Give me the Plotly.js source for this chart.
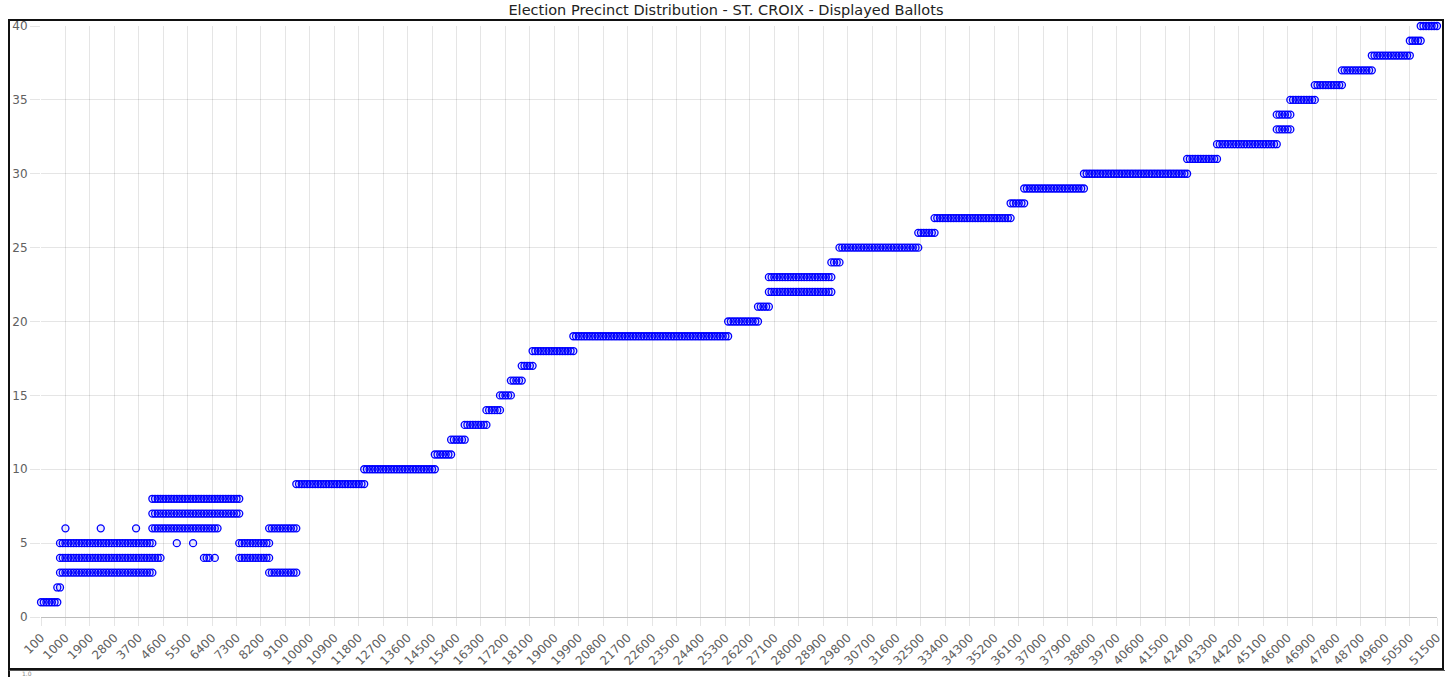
<!DOCTYPE html>
<html>
<head>
<meta charset="utf-8">
<script src="https://cdn.plot.ly/plotly-3.0.1.min.js"></script>
<style>
  html, body { margin: 0; padding: 0; background: #fff; overflow: hidden; }
  #wrap { position: relative; width: 1445px; height: 677px; }
  #chart { position: absolute; left: 0; top: 0; width: 1445px; height: 677px; }
  #frame { position: absolute; left: 8px; top: 19px; width: 1436px; height: 651px;
           box-sizing: border-box; border: 2px solid #111; pointer-events: none; }
  #next { position: absolute; left: 8px; top: 670px; width: 1437px; height: 7px;
          box-sizing: border-box; border-left: 2px solid #111; border-top: 1px solid #555; pointer-events: none;
          font: 6px 'DejaVu Sans', sans-serif; line-height: 6px; color: #888; overflow: visible; }
  #next span { position: absolute; left: 12px; top: 0px; }
</style>
</head>
<body>
<div id="wrap">
  <div id="chart"></div>
  <div id="frame"></div>
  <div id="next"><span>1.0</span></div>
</div>
<script>
// Runs of displayed ballots: [y value, first x label, last x label], one point per label (step 100)
const runs = [
  [1, 100, 700], [2, 700, 800], [3, 800, 4200], [4, 800, 4500], [5, 800, 4200],
  [6, 4200, 6600], [7, 4200, 7400], [8, 4200, 7400], [4, 6100, 6300],
  [5, 7400, 8500], [4, 7400, 8500], [6, 8500, 9500], [3, 8500, 9500],
  [9, 9500, 12000], [10, 12000, 14600], [11, 14600, 15200], [12, 15200, 15700],
  [13, 15700, 16500], [14, 16500, 17000], [15, 17000, 17400], [16, 17400, 17800],
  [17, 17800, 18200], [18, 18200, 19700], [19, 19700, 25400], [20, 25400, 26500],
  [21, 26500, 26900], [22, 26900, 29200], [23, 26900, 29200], [24, 29200, 29500],
  [25, 29500, 32400], [26, 32400, 33000], [27, 33000, 35800], [28, 35800, 36300],
  [29, 36300, 38500], [30, 38500, 42300], [31, 42300, 43400], [32, 43400, 45600],
  [33, 45600, 46100], [34, 45600, 46100], [35, 46100, 47000], [36, 47000, 48000],
  [37, 48000, 49100], [38, 49100, 50500], [39, 50500, 50900], [40, 50900, 51500]
];
// isolated points
const singleX = [1000, 2300, 3600, 5100, 5700, 6500];
const singleY = [6,    6,    6,    5,    5,    4];

const tickLabels = [100, 1000, 1900, 2800, 3700, 4600, 5500, 6400, 7300, 8200, 9100, 10000,
  10900, 11800, 12700, 13600, 14500, 15400, 16300, 17200, 18100, 19000, 19900, 20800,
  21700, 22600, 23500, 24400, 25300, 26200, 27100, 28000, 28900, 29800, 30700, 31600,
  32500, 33400, 34300, 35200, 36100, 37000, 37900, 38800, 39700, 40600, 41500, 42400,
  43300, 44200, 45100, 46000, 46900, 47800, 48700, 49600, 50500, 51500];

const xs = [], ys = [];
runs.forEach(([y, s, e]) => {
  for (let x = s; x <= e; x += 100) { xs.push(x); ys.push(y); }
});
singleX.forEach((x, i) => { xs.push(x); ys.push(singleY[i]); });

const grid = 'rgba(0,0,0,0.1)';
const tickFont = { family: 'DejaVu Sans, sans-serif', size: 12, color: '#606060' };

Plotly.newPlot('chart', [{
  type: 'scatter', mode: 'markers', x: xs, y: ys, cliponaxis: false,
  marker: { symbol: 'circle', size: 7, color: 'rgba(0,0,255,0.08)',
            line: { color: 'rgb(0,0,255)', width: 1.3 } },
  hoverinfo: 'x+y'
}], {
  width: 1445, height: 677, autosize: false,
  margin: { l: 41, r: 8, t: 26, b: 60, pad: 0 },
  paper_bgcolor: '#fff', plot_bgcolor: '#fff',
  showlegend: false,
  title: { text: 'Election Precinct Distribution - ST. CROIX - Displayed Ballots',
           xref: 'container', yref: 'container', x: 0.5024, y: 0.985,
           xanchor: 'center', yanchor: 'middle',
           font: { family: 'DejaVu Sans, sans-serif', size: 14.5, color: '#222' } },
  xaxis: {
    type: 'linear', range: [100, 51500],
    tickmode: 'array', tickvals: tickLabels, ticktext: tickLabels.map(String),
    tickangle: -45, tickfont: tickFont,
    ticks: 'outside', ticklen: 8, tickcolor: grid, tickwidth: 1,
    showgrid: true, gridcolor: grid, gridwidth: 1,
    zeroline: false, showline: false
  },
  yaxis: {
    range: [0, 40], tickmode: 'linear', tick0: 0, dtick: 5,
    tickfont: tickFont,
    ticks: 'outside', ticklen: 10, tickcolor: grid, tickwidth: 1,
    showgrid: true, gridcolor: grid, gridwidth: 1,
    zeroline: true, zerolinecolor: 'rgba(0,0,0,0.25)', zerolinewidth: 1,
    showline: false
  }
}, { displayModeBar: false, staticPlot: true });
</script>
</body>
</html>
